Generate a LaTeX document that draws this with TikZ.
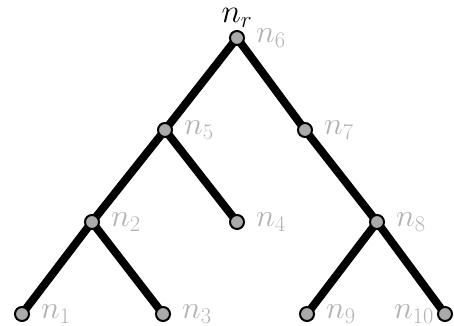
\RequirePackage{fix-cm}
\documentclass[tikz,border=0pt]{standalone}
\usepackage{amsmath}
\usepackage{amssymb}
\usetikzlibrary{backgrounds}

\definecolor{vgray}{RGB}{170,170,170}
\definecolor{lgray}{RGB}{178,178,178}

\tikzset{
    vert/.style={circle, draw=black, line width=2pt, fill=vgray, minimum size=14pt, inner sep=0pt},
    edge/.style={line width=8pt, black},
    lbl/.style={text=lgray, font=\fontsize{32}{38}\selectfont, inner sep=0pt, label distance=11pt},
    lblleft/.style={text=lgray, font=\fontsize{32}{38}\selectfont, inner sep=0pt, label distance=3pt},
    top/.style={text=black, font=\fontsize{33}{40}\selectfont, inner sep=0pt, label distance=2pt}
}

\begin{document}
\begin{tikzpicture}[x=1pt,y=1pt]
    \useasboundingbox (0,0) rectangle (454,325);
    \node[vert, label={[lbl]right:$n_6$}, label={[top]above:$n_r$}] (n6) at (237,287) {};
    \node[vert, label={[lbl]right:$n_5$}] (n5) at (165,195) {};
    \node[vert, label={[lbl]right:$n_7$}] (n7) at (305,195) {};
    \node[vert, label={[lbl]right:$n_2$}] (n2) at (92,103) {};
    \node[vert, label={[lbl]right:$n_4$}] (n4) at (237,103) {};
    \node[vert, label={[lbl]right:$n_8$}] (n8) at (377,103) {};
    \node[vert, label={[lbl]right:$n_1$}] (n1) at (22,11) {};
    \node[vert, label={[lbl]right:$n_3$}] (n3) at (163,11) {};
    \node[vert, label={[lbl]right:$n_9$}] (n9) at (307,11) {};
    \node[vert, label={[lblleft]left:$n_{10}$}] (n10) at (445,11) {};
    \begin{scope}[on background layer]
        \draw[edge] (n6.center) -- (n5.center);
        \draw[edge] (n6.center) -- (n7.center);
        \draw[edge] (n5.center) -- (n2.center);
        \draw[edge] (n5.center) -- (n4.center);
        \draw[edge] (n7.center) -- (n8.center);
        \draw[edge] (n2.center) -- (n1.center);
        \draw[edge] (n2.center) -- (n3.center);
        \draw[edge] (n8.center) -- (n9.center);
        \draw[edge] (n8.center) -- (n10.center);
    \end{scope}
\end{tikzpicture}
\end{document}
